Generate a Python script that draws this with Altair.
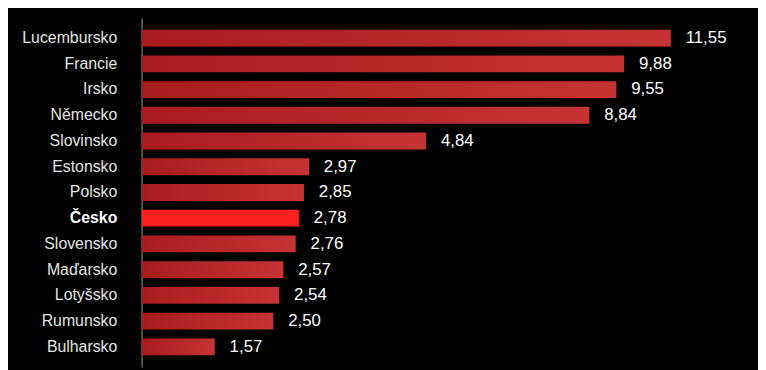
import altair as alt
import pandas as pd

countries = ["Lucembursko", "Francie", "Irsko", "Německo", "Slovinsko", "Estonsko",
             "Polsko", "Česko", "Slovensko", "Maďarsko", "Lotyšsko", "Rumunsko", "Bulharsko"]
# values printed next to bars
values = [11.55, 9.88, 9.55, 8.84, 4.84, 2.97, 2.85, 2.78, 2.76, 2.57, 2.54, 2.50, 1.57]
# bar lengths as drawn in the reference picture (same units)
bar_lengths = [11.57, 10.55, 10.38, 9.79, 6.22, 3.66, 3.55, 3.44, 3.37, 3.10, 3.01, 2.88, 1.60]
highlight = "Česko"

df = pd.DataFrame({
    "country": countries,
    "value": values,
    "bar": bar_lengths,
    "label": [f"{v:.2f}".replace(".", ",") for v in values],
})

FONT = "Liberation Sans"

y_enc = alt.Y(
    "country:N",
    sort=countries,
    scale=alt.Scale(paddingInner=0.346, paddingOuter=0.46),
    axis=alt.Axis(
        title=None,
        ticks=False,
        grid=False,
        domain=True,
        domainColor="#9a9a9a",
        domainWidth=1,
        labelPadding=25,
        labelFont=FONT,
        labelFontSize=16,
        labelColor={"condition": {"test": f"datum.value == '{highlight}'", "value": "#ffffff"}, "value": "#e4e4e4"},
        labelFontWeight={"condition": {"test": f"datum.value == '{highlight}'", "value": "bold"}, "value": "normal"},
    ),
)
x_enc = alt.X("bar:Q", scale=alt.Scale(domain=[0, 13], nice=False, zero=True), axis=None)

base = alt.Chart(df).encode(y=y_enc, x=x_enc)

gradient = alt.Gradient(
    gradient="linear",
    stops=[alt.GradientStop(color="#a81c1d", offset=0), alt.GradientStop(color="#c53335", offset=1)],
    x1=0, x2=1, y1=0, y2=0,
)

bars = base.transform_filter(f"datum.country != '{highlight}'").mark_bar(color=gradient)
bar_hl = base.transform_filter(f"datum.country == '{highlight}'").mark_bar(color="#ff2020")
text = base.mark_text(align="left", baseline="middle", dx=15, dy=0, fontSize=17,
                      font=FONT, color="#ffffff").encode(text="label:N")

chart = alt.layer(bars, bar_hl, text).properties(
    width=601,
    height=353,
    background="#000000",
    autosize=alt.AutoSizeParams(type="none"),
    padding={"left": 135, "top": 8, "right": 22, "bottom": 2},
).configure_view(strokeWidth=0)

chart.save("out.html", embed_options={"renderer": "svg", "actions": False})
